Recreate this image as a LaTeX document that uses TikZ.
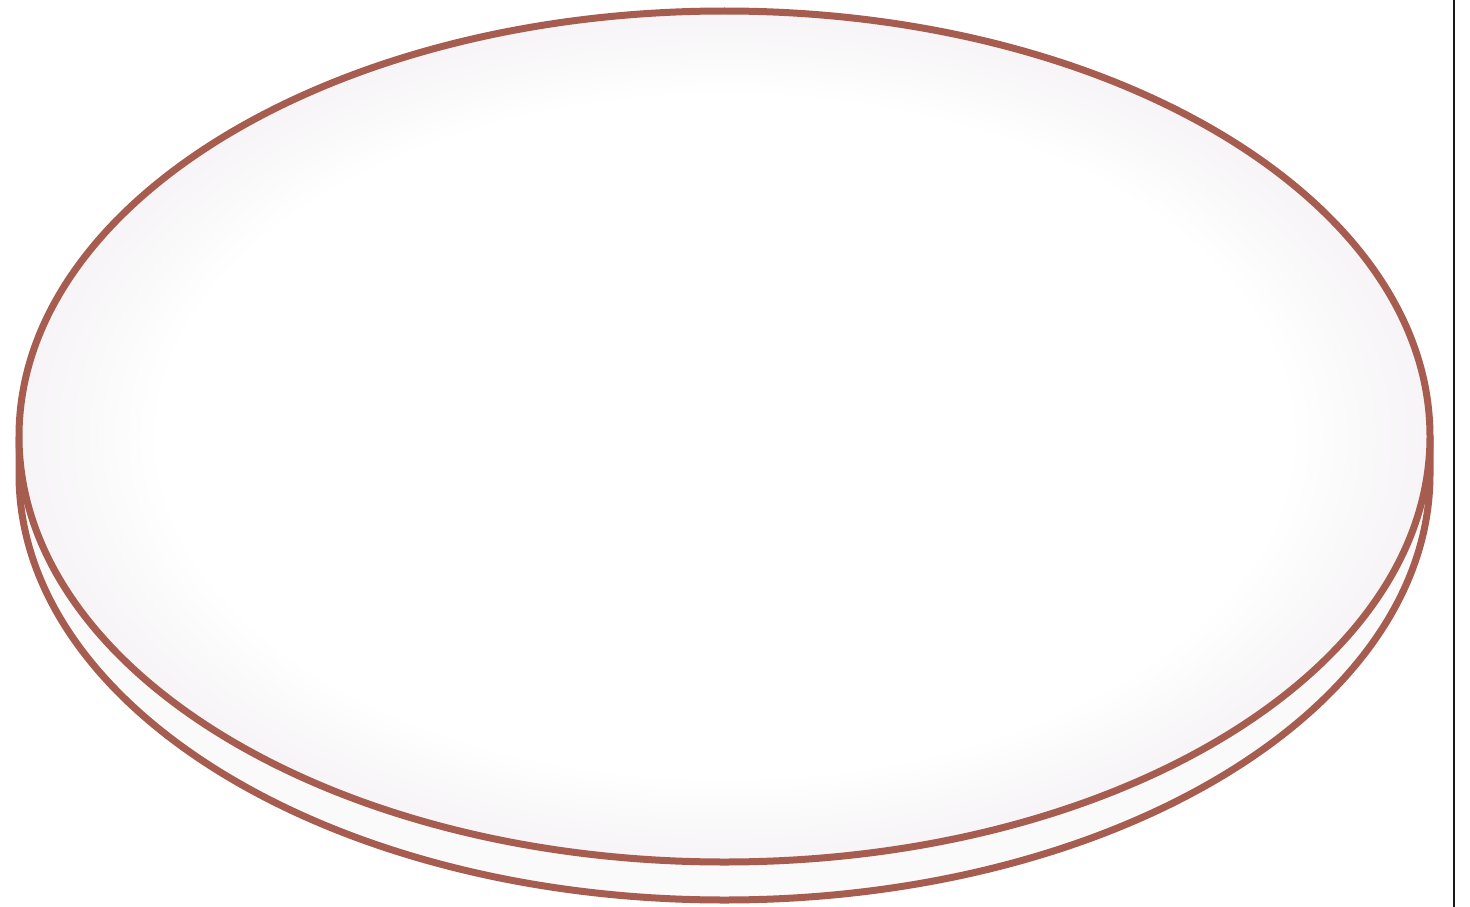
\documentclass[tikz,border=0pt]{standalone}
\usetikzlibrary{calc}
\definecolor{diskline}{HTML}{A65D50}
\definecolor{diskedge}{HTML}{F6F4F6}
\definecolor{diskside}{HTML}{FAFAFA}
\pgfdeclareradialshading{diskshade}{\pgfpoint{0bp}{0bp}}{color(0bp)=(white); color(20bp)=(white); color(25bp)=(diskedge); color(50bp)=(diskedge)}
\tikzset{
  diskstroke/.style={draw=diskline, line width=7pt, line join=round},
  rule/.style={draw=black!90, line width=2pt}
}
\begin{document}
\begin{tikzpicture}[x=1pt,y=-1pt]
\useasboundingbox (0,0) rectangle (1470,907);
% side / bottom of the disk
\coordinate (tl) at (19,436.5);
\coordinate (tr) at (1430,436.5);
\coordinate (bl) at (19,474.5);
\coordinate (br) at (1430,474.5);
\fill[diskside] (tl) -- (bl) arc[start angle=180, end angle=360, x radius=705.5, y radius=-425.5] -- (tr) -- cycle;
\draw[diskstroke] (tl) -- (bl) arc[start angle=180, end angle=360, x radius=705.5, y radius=-425.5] -- (tr);
% top face
\shade[shading=diskshade] (724.5,436.5) ellipse[x radius=705.5, y radius=425.5];
\draw[diskstroke] (724.5,436.5) ellipse[x radius=705.5, y radius=425.5];
% right rule
\coordinate (rt) at (1454,0);
\coordinate (rb) at (1454,907);
\draw[rule] (rt) -- (rb);
\end{tikzpicture}
\end{document}
